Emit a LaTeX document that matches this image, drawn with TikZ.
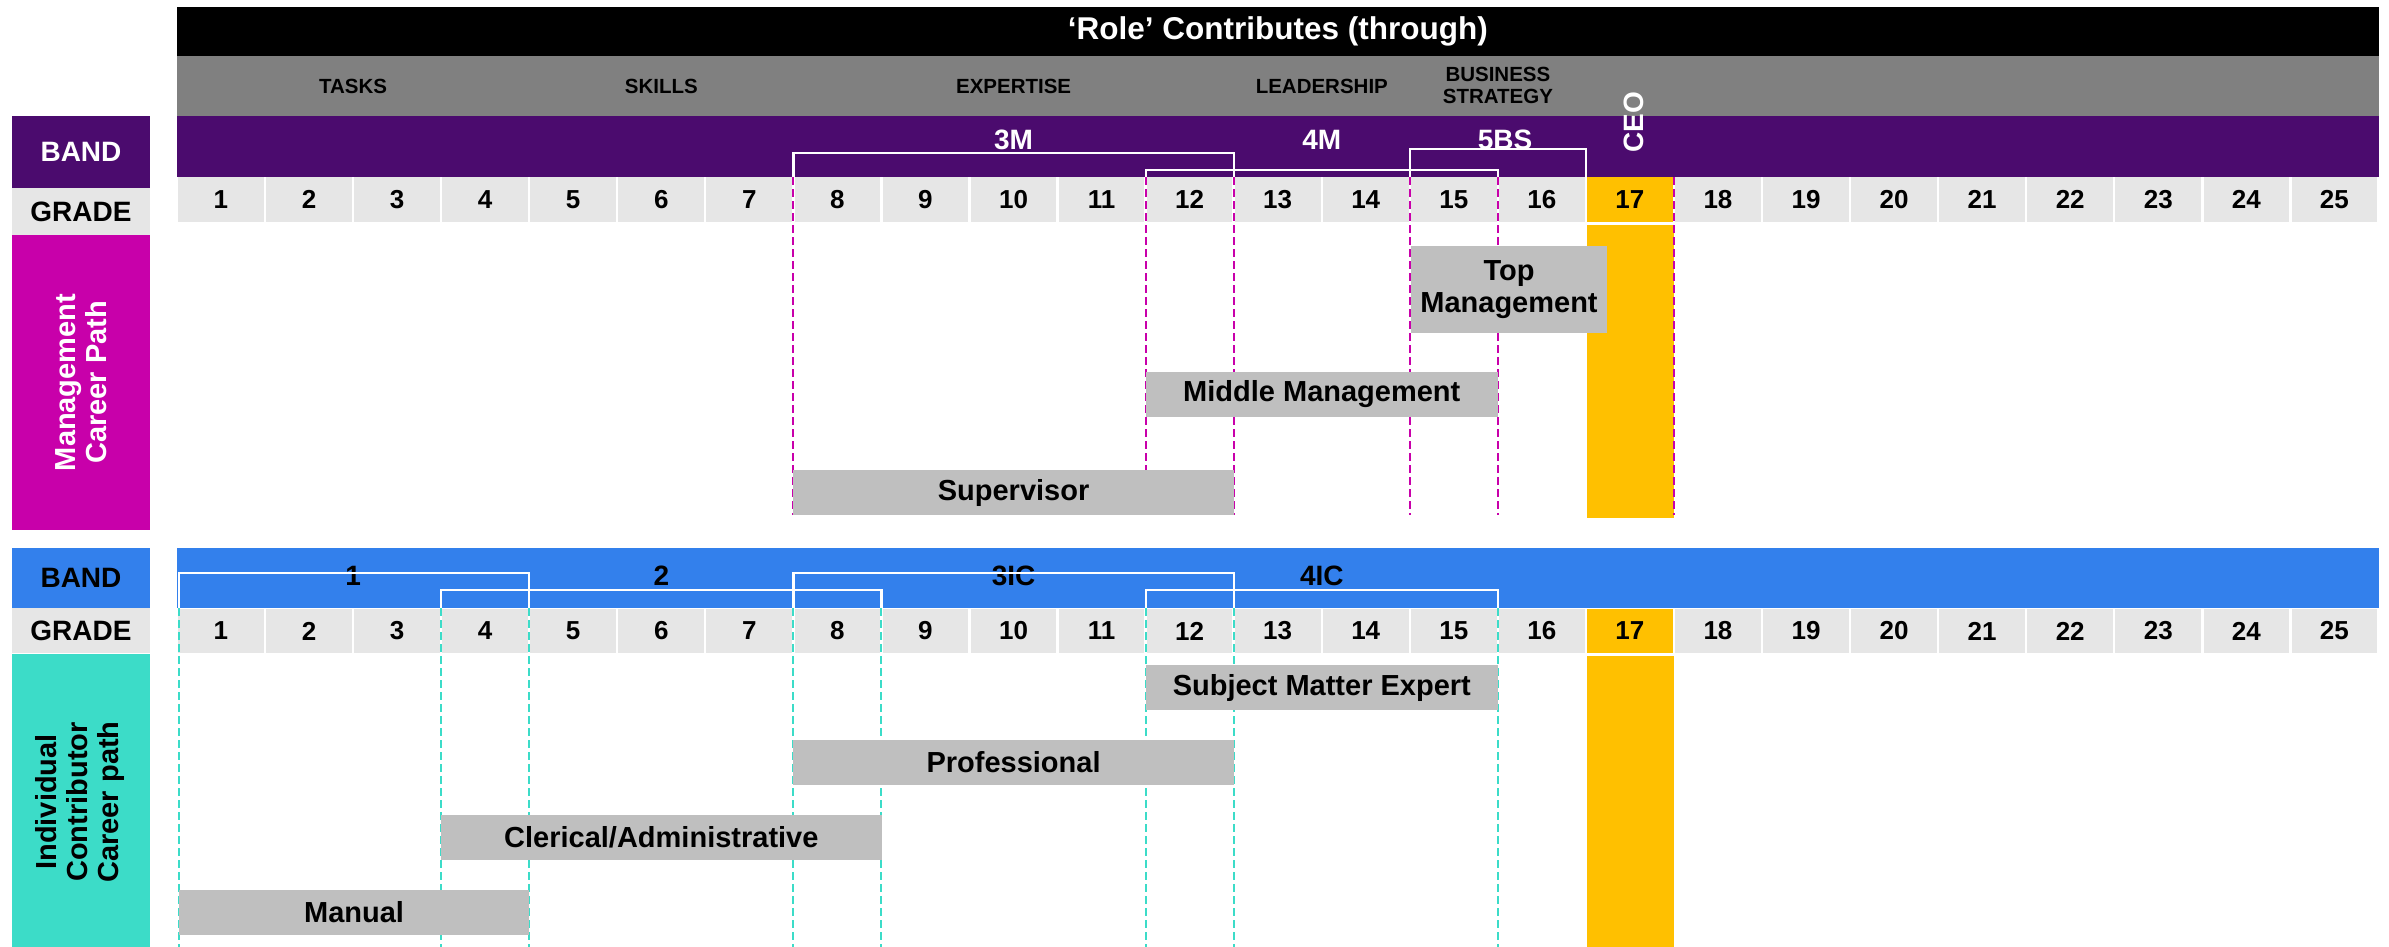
\documentclass[tikz,border=0pt]{standalone}
\usepackage{fontspec}
\setmainfont{Liberation Sans}
\definecolor{hdrgray}{HTML}{808080}
\definecolor{bandpurple}{HTML}{4B0B6E}
\definecolor{mgmtmag}{HTML}{C800AA}
\definecolor{cellgray}{HTML}{E6E6E6}
\definecolor{ceogold}{HTML}{FFC000}
\definecolor{rolegray}{HTML}{BFBFBF}
\definecolor{bandblue}{HTML}{3380EC}
\definecolor{icteal}{HTML}{3CDCC8}
\begin{document}
\begin{tikzpicture}[x=1pt,y=-1pt,
  every node/.style={inner sep=0pt,outer sep=0pt},
  barfill/.style={anchor=north west, minimum width=2201.5},
  headtext/.style={font=\fontsize{20.5}{22}\selectfont\bfseries, align=center},
  lbl/.style={anchor=north west, minimum width=138, font=\fontsize{28}{30}\selectfont\bfseries},
  gradecell/.style={anchor=north west, minimum width=85.7, fill=cellgray, font=\fontsize{26}{28}\selectfont\bfseries},
  bandtext/.style={font=\fontsize{28}{30}\selectfont\bfseries},
  roleblock/.style={anchor=north west, fill=rolegray, font=\fontsize{29}{32}\selectfont\bfseries, align=center},
  bracket/.style={draw=white, line width=2.2pt},
  mdash/.style={draw=mgmtmag, line width=2pt, dash pattern=on 8pt off 4pt},
  tdash/.style={draw=icteal, line width=2pt, dash pattern=on 8pt off 4pt},
  pathtext/.style={rotate=90, align=center, font=\fontsize{29}{31}\selectfont\bfseries}
]
\useasboundingbox (0,0) rectangle (2389,947);

% ---------- header ----------
\node[barfill, fill=black, minimum height=49, text=white,
      font=\fontsize{31.5}{34}\selectfont\bfseries] (title) at (177,7) {‘Role’ Contributes (through)};
\node[barfill, fill=hdrgray, minimum height=60] (contrib) at (177,56) {};
\node[headtext] (tasks)  at (353.1,86) {TASKS};
\node[headtext] (skills) at (661.3,86) {SKILLS};
\node[headtext] (expert) at (1013.6,86) {EXPERTISE};
\node[headtext] (lead)   at (1321.8,86) {LEADERSHIP};
\node[headtext] (strat)  at (1497.9,85) {BUSINESS\\STRATEGY};

% ---------- management section ----------
\node[barfill, fill=bandpurple, minimum height=61] (mband) at (177,116) {};
\node[lbl, fill=bandpurple, minimum height=72, text=white] (mbandlbl) at (12,116) {BAND};
\node[lbl, fill=cellgray, minimum height=47] (mgradelbl) at (12,188) {GRADE};
\node[lbl, fill=mgmtmag, minimum height=295] (mpathlbl) at (12,235) {};
\node[pathtext, text=white] (mpathtxt) at (mpathlbl.center) {Management\\Career Path};

\node[rotate=90, text=white, font=\fontsize{28}{30}\selectfont\bfseries] (ceo) at (1634,122) {CEO};

% grade cells, management rows
\foreach \k in {1,...,25} {
  \pgfmathsetmacro{\xl}{177+88.06*(\k-1)+1.1}
  \ifnum\k=17
    \node[gradecell, minimum height=45, fill=ceogold] (mg\k) at (\xl,177) {\k};
  \else
    \node[gradecell, minimum height=45] (mg\k) at (\xl,177) {\k};
  \fi
}
\fill[ceogold] (1587.1,225) rectangle (1674,518);

\foreach \xx in {793.42,1145.66,1233.72,1409.84,1497.9,1674.02}
  \draw[mdash] (\xx,177) -- (\xx,515);

\node[roleblock, minimum width=196, minimum height=87] (topm) at (1411,246) {Top\\Management};
\node[roleblock, minimum width=352.2, minimum height=45] (midm) at (1145.7,372) {Middle Management};
\node[roleblock, minimum width=440.3, minimum height=45] (superv) at (793.4,470) {Supervisor};

\node[bandtext, text=white] (b3m)  at (1013.6,140) {3M};
\node[bandtext, text=white] (b4m)  at (1321.8,140) {4M};
\node[bandtext, text=white] (b5bs) at (1505,140) {5BS};

\draw[bracket] (793.42,177) -- (793.42,153) -- (1233.72,153) -- (1233.72,177);
\draw[bracket] (1145.66,177) -- (1145.66,170) -- (1497.9,170) -- (1497.9,177);
\draw[bracket] (1409.84,177) -- (1409.84,149) -- (1585.96,149) -- (1585.96,177);

% ---------- individual contributor section ----------
\node[barfill, fill=bandblue, minimum height=60] (iband) at (177,548) {};
\node[lbl, fill=bandblue, minimum height=60] (ibandlbl) at (12,548) {BAND};
\node[lbl, fill=cellgray, minimum height=45] (igradelbl) at (12,608) {GRADE};
\node[lbl, fill=icteal, minimum height=293] (ipathlbl) at (12,654) {};
\node[pathtext] (ipathtxt) at (80,802) {Individual\\Contributor\\Career path};

\foreach \k in {1,...,25} {
  \pgfmathsetmacro{\xl}{177+88.06*(\k-1)+1.1}
  \ifnum\k=17
    \node[gradecell, minimum height=44, fill=ceogold] (ig\k) at (\xl,609) {\k};
  \else
    \node[gradecell, minimum height=44] (ig\k) at (\xl,609) {\k};
  \fi
}
\fill[ceogold] (1587.1,656) rectangle (1674,947);

\foreach \xx in {179,441.18,529.24,793.42,881.48,1145.66,1233.72,1497.9}
  \draw[tdash] (\xx,608) -- (\xx,947);

\node[roleblock, minimum width=352.2, minimum height=45] (sme)    at (1145.7,665) {Subject Matter Expert};
\node[roleblock, minimum width=440.3, minimum height=45] (prof)   at (793.4,740) {Professional};
\node[roleblock, minimum width=440.3, minimum height=45] (cler)   at (441.2,815) {Clerical/Administrative};
\node[roleblock, minimum width=350.2, minimum height=45] (manual) at (179,890) {Manual};

\node[bandtext] (b1)   at (353.1,576) {1};
\node[bandtext] (b2)   at (661.3,576) {2};
\node[bandtext] (b3ic) at (1013.6,576) {3IC};
\node[bandtext] (b4ic) at (1321.8,576) {4IC};

\draw[bracket] (179,608) -- (179,573) -- (529.24,573) -- (529.24,608);
\draw[bracket] (441.18,608) -- (441.18,590) -- (881.48,590) -- (881.48,608);
\draw[bracket] (793.42,608) -- (793.42,573) -- (1233.72,573) -- (1233.72,608);
\draw[bracket] (1145.66,608) -- (1145.66,590) -- (1497.9,590) -- (1497.9,608);
\end{tikzpicture}
\end{document}
